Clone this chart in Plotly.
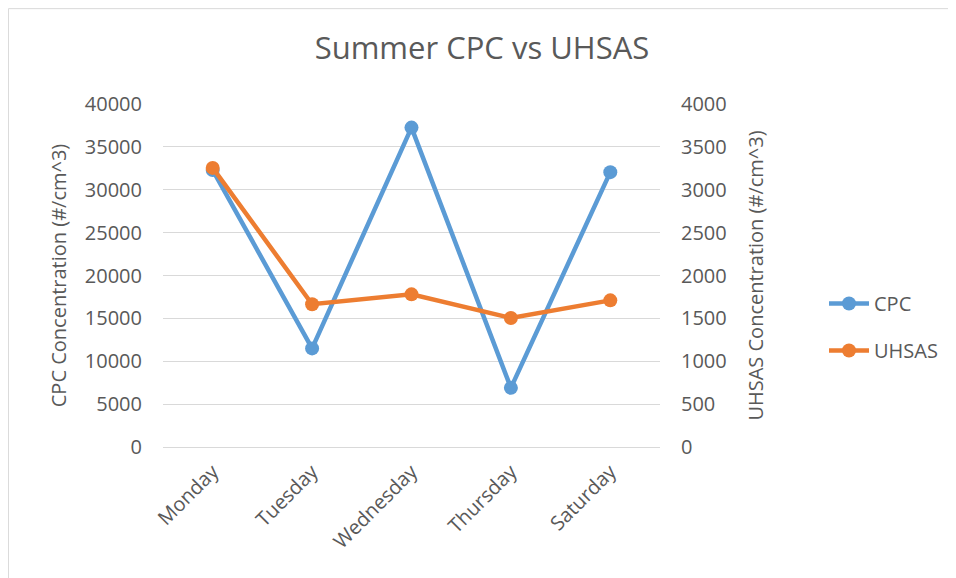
import plotly.graph_objects as go

days = ["Monday", "Tuesday", "Wednesday", "Thursday", "Saturday"]
cpc = [32300, 11500, 37250, 6900, 32050]
uhsas = [3255, 1665, 1780, 1505, 1710]

grey = "#595959"
font = "'Open Sans', sans-serif"

fig = go.Figure()
fig.add_trace(go.Scatter(
    x=days, y=cpc, name="CPC", mode="lines+markers",
    line=dict(color="#5B9BD5", width=4.5),
    marker=dict(size=14, color="#5B9BD5"),
    legendgroup="a",
))
fig.add_trace(go.Scatter(
    x=days, y=uhsas, name="UHSAS", mode="lines+markers",
    line=dict(color="#ED7D31", width=4.5),
    marker=dict(size=14, color="#ED7D31"),
    yaxis="y2", legendgroup="b",
))

# page body has an 8px margin, so the figure is a bit smaller than the window
fig.update_layout(
    width=948, height=570,
    margin=dict(l=155, r=296, t=96, b=131),
    paper_bgcolor="white", plot_bgcolor="white",
    font=dict(family=font, color=grey, size=20),
    title=dict(text="Summer CPC vs UHSAS", x=0.5, xanchor="center",
               y=0.93, yanchor="middle",
               font=dict(size=31, color=grey, family=font)),
    xaxis=dict(tickangle=-45, showgrid=False, ticks="", zeroline=False,
               range=[-0.5, 4.5], ticklabelstandoff=8,
               tickfont=dict(size=20, color=grey)),
    yaxis=dict(range=[0, 40000], dtick=5000, gridcolor="#D9D9D9",
               zeroline=True, zerolinecolor="#D9D9D9", zerolinewidth=1,
               ticks="", tickformat="d", ticklabelstandoff=20,
               title=dict(text="CPC Concentration (#/cm^3)", standoff=12,
                          font=dict(size=20, color=grey)),
               tickfont=dict(size=20, color=grey)),
    yaxis2=dict(range=[0, 4000], dtick=500, overlaying="y", side="right",
                showgrid=False, zeroline=False, ticks="", tickformat="d",
                ticklabelstandoff=20,
                title=dict(text="UHSAS Concentration (#/cm^3)", standoff=23,
                           font=dict(size=20, color=grey)),
                tickfont=dict(size=20, color=grey)),
    legend=dict(x=1.33, y=0.35, xanchor="left", yanchor="middle",
                tracegroupgap=18, font=dict(size=20, color=grey),
                itemwidth=40),
    shapes=[dict(type="rect", xref="paper", yref="paper",
                 x0=-0.311, x1=1.5835, y0=-0.5, y1=1.278,
                 line=dict(color="#D9D9D9", width=1))],
)

fig.write_html("out.html")
